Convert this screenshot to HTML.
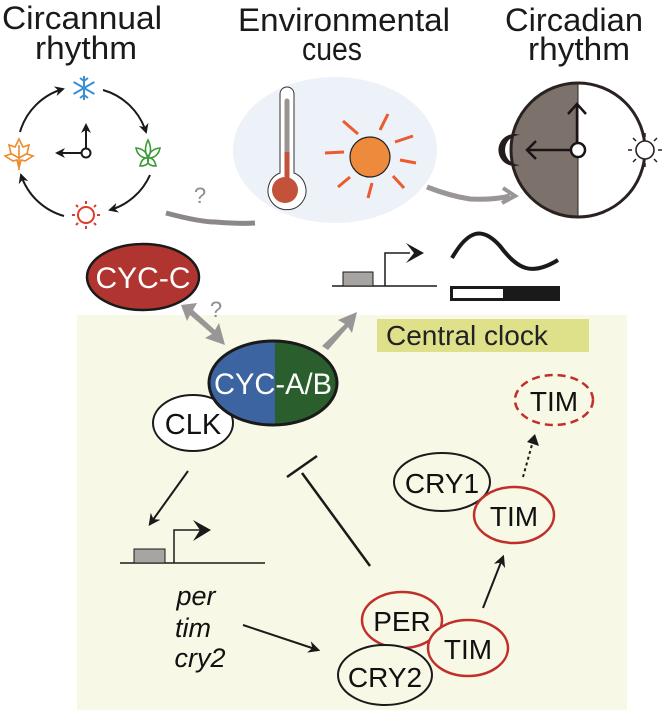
<!DOCTYPE html>
<html><head><meta charset="utf-8"><style>
html,body{margin:0;padding:0;background:#fff}
svg{display:block}
text{font-family:"Liberation Sans",sans-serif}
</style></head><body>
<svg width="663" height="710" viewBox="0 0 663 710" xmlns="http://www.w3.org/2000/svg">
<defs>
<marker id="ah" viewBox="0 0 10 10" refX="8" refY="5" markerWidth="5" markerHeight="5" orient="auto"><path d="M0,0 L10,5 L0,10 L3,5 z" fill="#1a1a1a"/></marker>
<marker id="ahs" viewBox="0 0 10 10" refX="8" refY="5" markerWidth="6" markerHeight="6" orient="auto"><path d="M0,0 L10,5 L0,10 L3,5 z" fill="#1a1a1a"/></marker>
</defs>
<g font-size="32" fill="#1a1a1a" text-anchor="start">
<text x="2" y="29" textLength="160" lengthAdjust="spacingAndGlyphs">Circannual</text>
<text x="35" y="59" textLength="102" lengthAdjust="spacingAndGlyphs">rhythm</text>
<text x="238" y="31" textLength="212" lengthAdjust="spacingAndGlyphs">Environmental</text>
<text x="302" y="60" textLength="60" lengthAdjust="spacingAndGlyphs">cues</text>
<text x="505" y="31" textLength="138" lengthAdjust="spacingAndGlyphs">Circadian</text>
<text x="528" y="60" textLength="102" lengthAdjust="spacingAndGlyphs">rhythm</text>
</g>
<rect x="77" y="315" width="550" height="395" fill="#f8f8e6"/>
<rect x="377" y="319" width="212" height="33" fill="#dfe08a"/>
<text x="386" y="345" font-size="28" fill="#222">Central clock</text>

<g fill="none" stroke="#1a1a1a" stroke-width="2">
<path d="M103,90 A63,63 0 0 1 146,132" marker-end="url(#ah)"/>
<path d="M150,175 A63,63 0 0 1 110,210" marker-end="url(#ah)"/>
<path d="M64,216 A63,63 0 0 1 21,175" marker-end="url(#ah)"/>
<path d="M20,132 A63,63 0 0 1 63,89" marker-end="url(#ah)"/>
<path d="M86,148 L86,125" marker-end="url(#ah)"/>
<path d="M82,153 L57,153" marker-end="url(#ah)"/>
</g>
<circle cx="86" cy="153" r="4.5" fill="#fff" stroke="#1a1a1a" stroke-width="2"/>
<g stroke="#3a8fd6" stroke-width="2" fill="none">
<path d="M84,76 V100 M73.6,82 L94.4,94 M73.6,94 L94.4,82 M80,78 L84,81 L88,78 M80,98 L84,95 L88,98"/>
</g>
<g stroke="#3d9a3a" stroke-width="1.6" fill="none">
<path d="M148,140 Q153,150 148,158 Q143,150 148,140 Z M136,148 Q146,149 148,158 Q138,158 136,148 Z M160,148 Q158,158 148,158 Q150,149 160,148 Z M140,166 Q142,157 148,158 Q150,166 140,166 Z M156,166 Q146,166 148,158 Q154,157 156,166 Z"/>
</g>
<g stroke="#ef8a2a" stroke-width="1.6" fill="none">
<path d="M19,139 L23,147 L29,145 L27,154 L33,156 L25,161 L21,160 L19,168 L17,160 L13,161 L5,156 L11,154 L9,145 L15,147 Z M19,145 V170 M19,158 L10,153 M19,158 L28,153"/>
</g>
<g stroke="#e03a2a" stroke-width="2" fill="none">
<circle cx="86" cy="215" r="8"/>
<path d="M86,201 V204 M86,226 V229 M72,215 H75 M97,215 H100 M76,205 L78,207 M94,223 L96,225 M76,225 L78,223 M94,207 L96,205"/>
</g>
<path d="M166,213 Q200,222 215,222 Q240,224 255,223" fill="none" stroke="#8c8888" stroke-width="5"/>
<text x="200" y="203" font-size="22" fill="#8c8c8c" text-anchor="middle">?</text>

<ellipse cx="335" cy="150" rx="102" ry="73" fill="#edf1f8"/>
<path d="M280,94 A7,7 0 0 1 294,94 V173 A19,19 0 1 1 280,173 Z" fill="#fff" stroke="#333" stroke-width="1"/>
<line x1="287" y1="101" x2="287" y2="152" stroke="#9a9494" stroke-width="5" stroke-linecap="round"/>
<line x1="287" y1="152" x2="287" y2="185" stroke="#c2523a" stroke-width="5"/>
<circle cx="285" cy="190" r="13" fill="#c2523a"/>
<circle cx="370" cy="157" r="20" fill="#ee8a3c" stroke="#222" stroke-width="1.2"/>
<g stroke="#ec5a2e" stroke-width="3">
<path d="M343,121 L358,134 M388,114 L380,130 M395,142 L413,136 M400,160 L416,163 M393,176 L404,188 M372,183 L368,198 M350,177 L338,187 M325,153 L344,152"/>
</g>
<path d="M427,187 Q450,196 470,199 Q495,200 510,196" fill="none" stroke="#9a9696" stroke-width="5"/>
<path d="M503,188 L515,196 L502,203" fill="none" stroke="#9a9696" stroke-width="4"/>

<path d="M578,83 A67,67 0 0 0 578,217 Z" fill="#7d716c"/>
<circle cx="578" cy="150" r="67" fill="none" stroke="#2a2220" stroke-width="3"/>
<line x1="578" y1="83" x2="578" y2="217" stroke="#2a2220" stroke-width="1"/>
<path d="M577,146 V105" stroke="#1a1414" stroke-width="2.5" fill="none"/>
<path d="M568,114 L577,104 L586,114" stroke="#1a1414" stroke-width="2.5" fill="none"/>
<path d="M573,150 H528" stroke="#1a1414" stroke-width="2.5" fill="none"/>
<path d="M536,141 L527,150 L536,159" stroke="#1a1414" stroke-width="2.5" fill="none"/>
<circle cx="578" cy="150" r="7" fill="#fff" stroke="#1a1414" stroke-width="2.5"/>
<path d="M520,135 A16,16 0 1 0 520,165 A12,12 0 0 1 520,135 Z" fill="#241c1a"/>
<circle cx="645" cy="150" r="9" fill="#fff" stroke="#2a2220" stroke-width="1.6"/>
<g stroke="#2a2220" stroke-width="1.5"><path d="M645,133 V137 M645,163 V167 M628,150 H632 M658,150 H662 M633,138 L636,141 M654,159 L657,162 M633,162 L636,159 M654,141 L657,138"/></g>

<line x1="332" y1="286" x2="437" y2="286" stroke="#1a1a1a" stroke-width="1.5"/>
<rect x="343" y="272" width="30" height="14" fill="#a8a4a2" stroke="#1a1a1a" stroke-width="1"/>
<path d="M385,286 V253 H410" fill="none" stroke="#1a1a1a" stroke-width="1.5"/>
<path d="M406,243 L424,253 L406,263 L414,253 Z" fill="#1a1a1a"/>
<path d="M452,258 C468,230 482,226 500,246 C518,270 532,276 558,260" fill="none" stroke="#1a1a1a" stroke-width="4"/>
<rect x="450" y="286" width="110" height="15" fill="#1a1a1a"/>
<rect x="453" y="289" width="50" height="9" fill="#fff"/>

<ellipse cx="143" cy="277" rx="56" ry="33" fill="#b03530" stroke="#1a1a1a" stroke-width="2.5"/>
<text x="143" y="288" font-size="30" fill="#fff" text-anchor="middle">CYC-C</text>
<g fill="#9a9696">
<path d="M181,305 L197,303 L193,310 L215,330 L219,323 L225,345 L205,338 L212,334 L190,315 L187,321 Z"/>
<path d="M322,346 L345,324 L338,320 L357,312 L352,333 L348,327 L328,350 Z"/>
</g>
<text x="216" y="317" font-size="22" fill="#8c8c8c" text-anchor="middle">?</text>

<ellipse cx="193" cy="423" rx="40" ry="28" fill="#fff" stroke="#1a1a1a" stroke-width="2"/>
<text x="193" y="434" font-size="29" fill="#111" text-anchor="middle">CLK</text>
<clipPath id="cyc"><ellipse cx="273" cy="383" rx="64" ry="42"/></clipPath>
<g clip-path="url(#cyc)">
<rect x="200" y="330" width="75" height="110" fill="#3c64a0"/>
<rect x="275" y="330" width="80" height="110" fill="#2a5e2c"/>
</g>
<ellipse cx="273" cy="383" rx="64" ry="42" fill="none" stroke="#1a1a1a" stroke-width="3"/>
<text x="273" y="394" font-size="30" fill="#fff" text-anchor="middle" textLength="118" lengthAdjust="spacingAndGlyphs">CYC-A/B</text>

<line x1="188" y1="471" x2="150" y2="524" stroke="#1a1a1a" stroke-width="2" marker-end="url(#ahs)"/>
<line x1="120" y1="563" x2="265" y2="563" stroke="#1a1a1a" stroke-width="1.5"/>
<rect x="134" y="549" width="31" height="14" fill="#a8a4a2" stroke="#1a1a1a" stroke-width="1"/>
<path d="M174,563 V530 H200" fill="none" stroke="#1a1a1a" stroke-width="1.5"/>
<path d="M193,520 L211,530 L193,541 L200,530 Z" fill="#1a1a1a"/>
<g font-size="27" font-style="italic" fill="#111" text-anchor="middle">
<text x="196" y="605">per</text>
<text x="193" y="637">tim</text>
<text x="200" y="667">cry2</text>
</g>
<line x1="243" y1="625" x2="318" y2="650" stroke="#1a1a1a" stroke-width="2" marker-end="url(#ahs)"/>
<line x1="370" y1="566" x2="302" y2="473" stroke="#1a1a1a" stroke-width="2.5"/>
<line x1="287" y1="477" x2="317" y2="456" stroke="#1a1a1a" stroke-width="2.5"/>

<ellipse cx="402" cy="620" rx="40" ry="28" fill="#f8f8e6" stroke="#c0302a" stroke-width="2.5"/>
<text x="402" y="631" font-size="28" fill="#111" text-anchor="middle">PER</text>
<ellipse cx="385" cy="675" rx="47" ry="30" fill="#f8f8e6" stroke="#1a1a1a" stroke-width="2"/>
<text x="385" y="687" font-size="28" fill="#111" text-anchor="middle">CRY2</text>
<ellipse cx="468" cy="648" rx="40" ry="28" fill="#f8f8e6" stroke="#c0302a" stroke-width="2.5"/>
<text x="468" y="659" font-size="28" fill="#111" text-anchor="middle">TIM</text>
<line x1="483" y1="608" x2="503" y2="557" stroke="#1a1a1a" stroke-width="2" marker-end="url(#ahs)"/>
<ellipse cx="442" cy="482" rx="48" ry="29" fill="#f8f8e6" stroke="#1a1a1a" stroke-width="2"/>
<text x="442" y="493" font-size="28" fill="#111" text-anchor="middle">CRY1</text>
<ellipse cx="514" cy="515" rx="40" ry="28" fill="#f8f8e6" stroke="#c0302a" stroke-width="2.5"/>
<text x="514" y="526" font-size="28" fill="#111" text-anchor="middle">TIM</text>
<line x1="523" y1="477" x2="533" y2="441" stroke="#1a1a1a" stroke-width="2" stroke-dasharray="3,3"/>
<path d="M527,442 L535,434 L539,446 Z" fill="#1a1a1a"/>
<ellipse cx="554" cy="400" rx="39" ry="25" fill="none" stroke="#c0302a" stroke-width="2.5" stroke-dasharray="8,5"/>
<text x="554" y="411" font-size="28" fill="#111" text-anchor="middle">TIM</text>
</svg>
</body></html>
